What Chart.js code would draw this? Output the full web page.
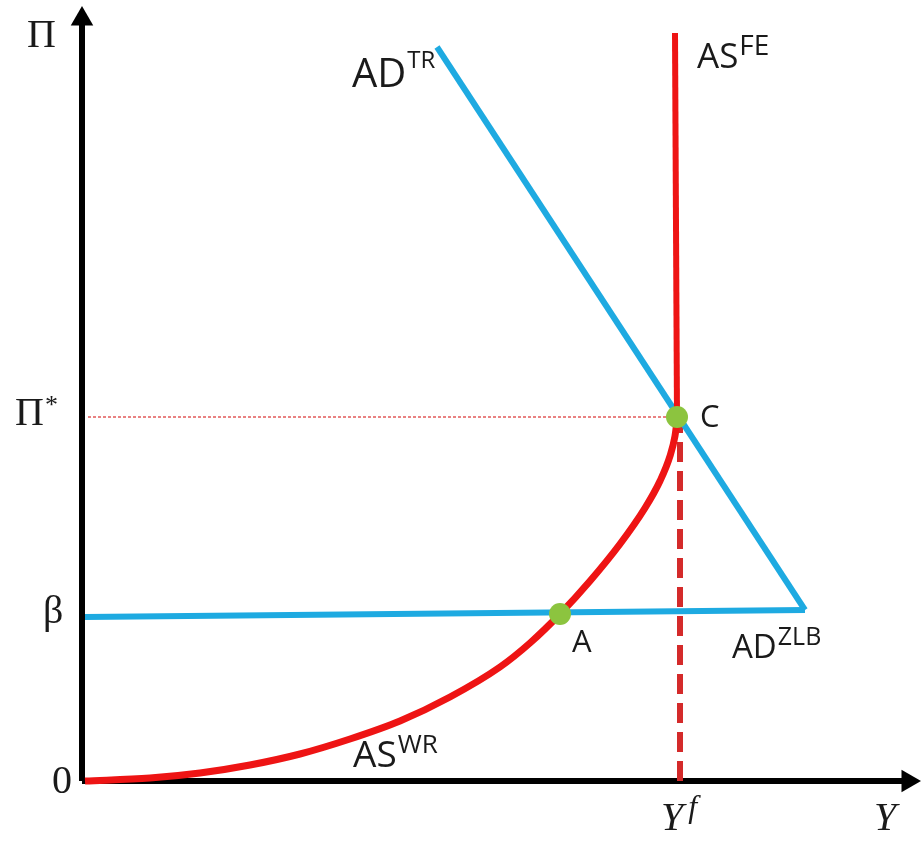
<!DOCTYPE html>
<html>
<head>
<meta charset="utf-8">
<script src="https://cdn.jsdelivr.net/npm/chart.js@4/dist/chart.umd.min.js"></script>
<style>
    html, body { margin: 0; padding: 0; background: #fff; }
    canvas { display: block; }
</style>
</head>
<body>
<canvas id="adas" width="922" height="842"></canvas>
<script>
const yFull = 595;          // Y^f
const piStar = 364;         // Π*
const beta = 164;           // β

const asWrX = [3, 68, 118, 168, 218, 268, 318, 368, 418, 448, 478, 508, 538, 563, 578, 588, 593, 595.5];
const asWrY = [0, 3, 8, 16, 27, 42, 60, 84, 114, 138, 167, 200, 237, 273, 300, 325, 345, 364];

const asFeX = [595, 593];
const asFeY = [364, 748];

const adTrX = [355, 723];
const adTrY = [734, 171];

const adZlbX = [3, 723];
const adZlbY = [beta, 171];

const eqNames = ['A', 'C'];
const eqX = [478, 595];
const eqY = [167, piStar];

const xMax = 840;
const yMax = 776;

const RED = '#ee1414';
const BLUE = '#1eaae1';
const GREEN = '#8cc43f';

function toPoints(xs, ys) {
    return xs.map((x, i) => ({ x: x, y: ys[i] }));
}

// text labels, anchored in plot units (left edge, baseline)
const labels = [
    { text: 'Π', x: -55, y: 734, family: '"Liberation Serif"', size: 40 },
    { text: 'Π', sup: '*', x: -67, y: 356, family: '"Liberation Serif"', size: 40, supSize: 26, rise: 12 },
    { text: 'β', x: -39, y: 158, family: '"Liberation Serif"', size: 40 },
    { text: '0', x: -30, y: -12, family: '"Liberation Serif"', size: 40 },
    { text: 'Y', sup: 'f', x: 579, y: -49, family: '"Liberation Serif"', style: 'italic', size: 40, supSize: 32, rise: 13, gap: 5 },
    { text: 'Y', x: 792, y: -49, family: '"Liberation Serif"', style: 'italic', size: 40 },
    { text: 'AD', sup: 'TR', x: 270, y: 694, size: 40, supSize: 24, rise: 19 },
    { text: 'AS', sup: 'FE', x: 615, y: 713, size: 35, supSize: 28, rise: 13 },
    { text: 'C', x: 618, y: 354, size: 31 },
    { text: 'A', x: 490, y: 129, size: 31 },
    { text: 'AD', sup: 'ZLB', x: 650, y: 123, size: 33, supSize: 25, rise: 13 },
    { text: 'AS', sup: 'WR', x: 271, y: 14, size: 37, supSize: 26, rise: 14 }
];

const labelPlugin = {
    id: 'labelPlugin',
    afterDatasetsDraw(chart) {
        const ctx = chart.ctx;
        const xs = chart.scales.x;
        const ys = chart.scales.y;
        ctx.save();
        ctx.fillStyle = '#1a1a1a';
        ctx.textBaseline = 'alphabetic';
        ctx.textAlign = 'left';
        labels.forEach(l => {
            const family = l.family || '"Open Sans"';
            const style = l.style ? l.style + ' ' : '';
            const px = xs.getPixelForValue(l.x);
            const py = ys.getPixelForValue(l.y);
            ctx.font = `${style}${l.size}px ${family}`;
            ctx.fillText(l.text, px, py);
            if (l.sup) {
                const w = ctx.measureText(l.text).width;
                ctx.font = `${style}${l.supSize}px ${family}`;
                ctx.fillText(l.sup, px + w + (l.gap || 1), py - l.rise);
            }
        });
        ctx.restore();
    }
};

const ctx = document.getElementById('adas').getContext('2d');
const chart = new Chart(ctx, {
    type: 'scatter',
    data: {
        datasets: [
            {
                label: 'equilibria',
                data: toPoints(eqX, eqY),
                pointRadius: 11,
                pointBackgroundColor: GREEN,
                pointBorderWidth: 0,
                showLine: false,
                order: 0
            },
            {
                label: 'AS FE',
                data: toPoints(asFeX, asFeY),
                showLine: true,
                borderColor: RED,
                borderWidth: 6,
                pointRadius: 0,
                order: 1
            },
            {
                label: 'AS WR',
                data: toPoints(asWrX, asWrY),
                showLine: true,
                borderColor: RED,
                borderWidth: 7,
                cubicInterpolationMode: 'monotone',
                pointRadius: 0,
                order: 2
            },
            {
                label: 'AD TR',
                data: toPoints(adTrX, adTrY),
                showLine: true,
                borderColor: BLUE,
                borderWidth: 6,
                pointRadius: 0,
                order: 3
            },
            {
                label: 'AD ZLB',
                data: toPoints(adZlbX, adZlbY),
                showLine: true,
                borderColor: BLUE,
                borderWidth: 6,
                pointRadius: 0,
                order: 4
            },
            {
                label: 'Yf guide',
                data: [{ x: yFull + 3, y: 0 }, { x: yFull + 3, y: piStar - 4 }],
                showLine: true,
                borderColor: '#d42a2a',
                borderWidth: 6,
                borderDash: [20, 9],
                pointRadius: 0,
                order: 5
            },
            {
                label: 'Pi star guide',
                data: [{ x: 6, y: piStar }, { x: yFull, y: piStar }],
                showLine: true,
                borderColor: '#e25a5a',
                borderWidth: 1.5,
                borderDash: [3, 2],
                pointRadius: 0,
                order: 6
            },
            {
                label: 'y axis',
                data: [{ x: 0, y: 0 }, { x: 0, y: 760 }],
                showLine: true,
                borderColor: '#000',
                borderWidth: 6,
                pointRadius: 0,
                order: 7
            },
            {
                label: 'x axis',
                data: [{ x: 0, y: 0 }, { x: 826, y: 0 }],
                showLine: true,
                borderColor: '#000',
                borderWidth: 6,
                pointRadius: 0,
                order: 8
            },
            {
                label: 'arrows',
                data: [{ x: 0, y: 762 }, { x: 826, y: 0 }],
                showLine: false,
                pointStyle: 'triangle',
                rotation: [0, 90],
                pointRadius: 13,
                pointBackgroundColor: '#000',
                pointBorderWidth: 0,
                order: 9
            }
        ].map(d => Object.assign({ clip: false }, d))
    },
    options: {
        responsive: false,
        animation: false,
        layout: { autoPadding: false, padding: { left: 82, right: 0, top: 5, bottom: 61 } },
        scales: {
            x: { type: 'linear', min: 0, max: xMax, display: false },
            y: { type: 'linear', min: 0, max: yMax, display: false }
        },
        plugins: {
            legend: { display: false },
            tooltip: { enabled: false }
        },
        events: []
    },
    plugins: [labelPlugin]
});
</script>
</body>
</html>
